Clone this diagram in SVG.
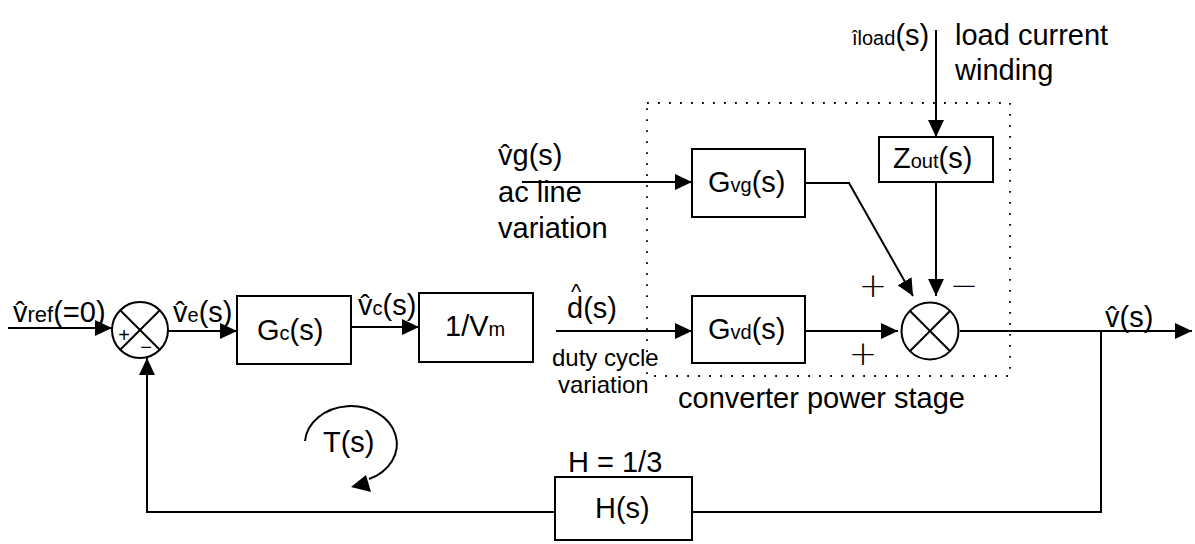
<svg xmlns="http://www.w3.org/2000/svg" width="1195" height="544" viewBox="0 0 1195 544">
<style>
text{font-family:"Liberation Sans",Arial,sans-serif;font-size:29px;fill:#000}
.s{font-size:20px}
.sm{font-size:24px}
.box{fill:#fff;stroke:#000;stroke-width:2}
.ln{fill:none;stroke:#000;stroke-width:2}
.dot{fill:none;stroke:#000;stroke-width:1.8;stroke-dasharray:1.8 9.2}
.sign{font-family:"DejaVu Sans",sans-serif;font-weight:200;font-size:34px}
</style>
<defs>
<marker id="ah" markerUnits="userSpaceOnUse" markerWidth="17" markerHeight="16" refX="17" refY="8" orient="auto">
<path d="M0,0 L17,8 L0,16 z" fill="#000"/>
</marker>
</defs>
<rect width="1195" height="544" fill="#fff"/>

<g id="power-stage">
<rect x="647" y="103" width="363" height="273" class="dot"/>
<text x="678" y="408">converter power stage</text>
</g>

<g id="connectors">
<line x1="8" y1="328" x2="112" y2="328" class="ln" marker-end="url(#ah)"/>
<line x1="168" y1="331" x2="237" y2="331" class="ln" marker-end="url(#ah)"/>
<line x1="351" y1="327" x2="419" y2="327" class="ln" marker-end="url(#ah)"/>
<line x1="556" y1="331" x2="692" y2="331" class="ln" marker-end="url(#ah)"/>
<line x1="522" y1="182" x2="692" y2="182" class="ln" marker-end="url(#ah)"/>
<line x1="936" y1="30" x2="936" y2="137" class="ln" marker-end="url(#ah)"/>
<polyline points="805,183 849,183 913,296" class="ln" marker-end="url(#ah)"/>
<line x1="936" y1="182" x2="936" y2="296" class="ln" marker-end="url(#ah)"/>
<line x1="805" y1="331" x2="898" y2="331" class="ln" marker-end="url(#ah)"/>
<line x1="960" y1="331" x2="1192" y2="331" class="ln" marker-end="url(#ah)"/>
<polyline points="1101,331 1101,512 692,512" class="ln"/>
<polyline points="555,512 147,512 147,358" class="ln" marker-end="url(#ah)"/>
<path d="M305,441 A46,38 0 1 1 369,479" class="ln"/>
<polygon points="351,487 366,475 371,492" fill="#000"/>
</g>

<g id="sum1">
<circle cx="140" cy="330" r="28" class="box"/>
<line x1="120.2" y1="310.2" x2="159.8" y2="349.8" class="ln"/>
<line x1="159.8" y1="310.2" x2="120.2" y2="349.8" class="ln"/>
<text x="124" y="342" class="s" text-anchor="middle">+</text>
<text x="146" y="354" class="s" text-anchor="middle">−</text>
</g>

<g id="Gc">
<rect x="237" y="296" width="114" height="68" class="box"/>
<text x="257" y="340">G<tspan class="s">c</tspan>(s)</text>
</g>

<g id="Vm">
<rect x="419" y="293" width="114" height="69" class="box"/>
<text x="445" y="336">1/V<tspan class="s">m</tspan></text>
</g>

<g id="Gvg">
<rect x="692" y="149" width="113" height="68" class="box"/>
<text x="708" y="192">G<tspan class="s">vg</tspan>(s)</text>
</g>

<g id="Gvd">
<rect x="692" y="296" width="113" height="67" class="box"/>
<text x="708" y="339">G<tspan class="s">vd</tspan>(s)</text>
</g>

<g id="Zout">
<rect x="879" y="137" width="114" height="45" class="box"/>
<text x="893" y="168">Z<tspan class="s">out</tspan>(s)</text>
</g>

<g id="sum2">
<circle cx="930" cy="331" r="28.5" class="box"/>
<line x1="909.8" y1="310.8" x2="950.2" y2="351.2" class="ln"/>
<line x1="950.2" y1="310.8" x2="909.8" y2="351.2" class="ln"/>
<text x="873" y="297" class="sign" text-anchor="middle">+</text>
<text x="863" y="365" class="sign" text-anchor="middle">+</text>
<text x="964" y="297" class="sign" text-anchor="middle">−</text>
</g>

<g id="H">
<rect x="555" y="477" width="137" height="63" class="box"/>
<text x="595" y="518">H(s)</text>
<text x="568" y="472">H = 1/3</text>
</g>

<g id="labels">
<text x="13" y="322">v̂<tspan style="font-size:22px">ref</tspan>(=0)</text>
<text x="173" y="322">v̂<tspan class="s">e</tspan>(s)</text>
<text x="358" y="315">v̂<tspan class="s">c</tspan>(s)</text>
<text><tspan x="571" y="299" style="font-size:22px">^</tspan><tspan x="567" y="318">d(s)</tspan></text>
<text x="552" y="366" class="sm">duty cycle</text>
<text x="558" y="393" class="sm">variation</text>
<text x="498" y="165">v̂g(s)</text>
<text x="498" y="202">ac line</text>
<text x="498" y="238">variation</text>
<text x="852" y="45"><tspan class="s">îload</tspan>(s)</text>
<text x="955" y="45">load current</text>
<text x="955" y="80">winding</text>
<text x="1105" y="327">v̂(s)</text>
<text x="323" y="452">T(s)</text>
</g>
</svg>
